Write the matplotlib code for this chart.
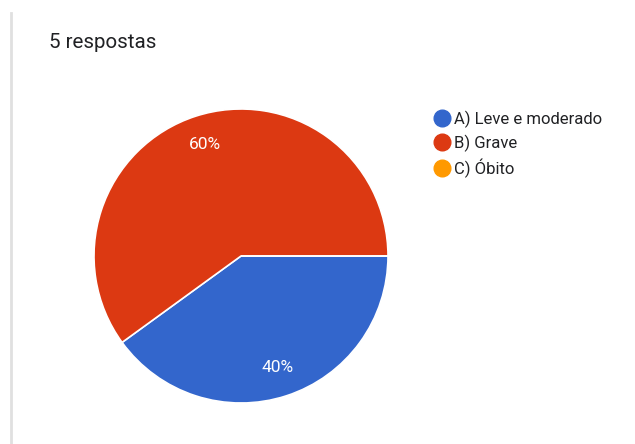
import matplotlib.pyplot as plt
from matplotlib.lines import Line2D

# dados
labels = ['A) Leve e moderado', 'B) Grave', 'C) Óbito']
values = [2, 3, 0]
colors = ['#3366cc', '#dc3912', '#ff9900']
title = '5 respostas'

plt.rcParams['font.family'] = ['Roboto', 'DejaVu Sans']

fig = plt.figure(figsize=(6.35, 4.44), dpi=100)
fig.patch.set_facecolor('white')

# pie
ax = fig.add_axes([94 / 635, 41 / 444, 294 / 635, 294 / 444])
wedges, texts, autotexts = ax.pie(
    values, colors=colors, startangle=0, counterclock=False,
    autopct=lambda p: '%d%%' % round(p) if p > 0 else '',
    pctdistance=0.8, wedgeprops=dict(edgecolor='white', linewidth=1.2),
    textprops=dict(color='white', fontsize=12.5))
ax.set_xlim(-1, 1)
ax.set_ylim(-1, 1)
ax.set_aspect('equal')

# titulo e borda esquerda
fig.text(49 / 635, 1 - 43 / 444, title, fontsize=14.8, color='#202124', va='center', ha='left')
fig.add_artist(Line2D([11 / 635, 11 / 635], [0, 1 - 13 / 444], color='#e0e0e0', linewidth=2,
                      transform=fig.transFigure))

# legenda
handles = [Line2D([], [], marker='o', linestyle='', markersize=12, color=c) for c in colors]
leg = fig.legend(handles, labels, loc='upper left', bbox_to_anchor=(426 / 635, 1 - 104 / 444),
                 frameon=False, fontsize=12, handletextpad=0.15, labelspacing=0.4,
                 handlelength=1.1, borderaxespad=0)
for t in leg.get_texts():
    t.set_color('#202124')

fig.savefig('out.png', dpi=100)
